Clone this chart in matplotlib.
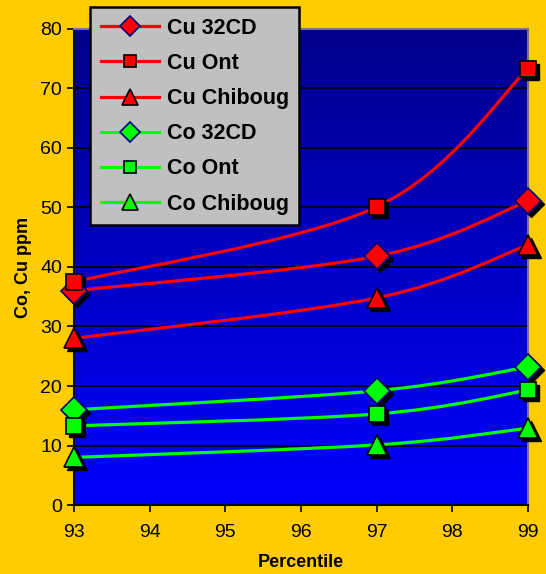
import numpy as np
import matplotlib
matplotlib.use("Agg")
import matplotlib.pyplot as plt
from matplotlib.path import Path
from matplotlib.patches import PathPatch
from matplotlib.lines import Line2D
from matplotlib.transforms import ScaledTranslation

plt.rcParams['font.family'] = ['Liberation Sans', 'DejaVu Sans']

percentile = [93, 97, 99]
cu_32cd = [36.0, 41.8, 51.1]
cu_ont = [37.5, 50.1, 73.3]
cu_chiboug = [28.0, 34.8, 43.7]
co_32cd = [16.0, 19.2, 23.2]
co_ont = [13.3, 15.3, 19.3]
co_chiboug = [8.0, 10.1, 12.9]

series = [
    ("Cu 32CD", cu_32cd, "#FF0000", "D", "#000080"),
    ("Cu Ont", cu_ont, "#FF0000", "s", "black"),
    ("Cu Chiboug", cu_chiboug, "#FF0000", "^", "black"),
    ("Co 32CD", co_32cd, "#00FF00", "D", "#000080"),
    ("Co Ont", co_ont, "#00FF00", "s", "black"),
    ("Co Chiboug", co_chiboug, "#00FF00", "^", "black"),
]
msizes = {"D": 13, "s": 11, "^": 14}


def smooth_path(xs, ys):
    # excel-style smoothed line: bezier segments through the points
    pts = np.column_stack([xs, ys]).astype(float)
    n = len(pts)
    verts = [pts[0]]
    codes = [Path.MOVETO]
    for i in range(n - 1):
        p0 = pts[max(i - 1, 0)]
        p1 = pts[i]
        p2 = pts[i + 1]
        p3 = pts[min(i + 2, n - 1)]
        c1 = p1 + (p2 - p0) / 6.0
        c2 = p2 - (p3 - p1) / 6.0
        verts += [c1, c2, p2]
        codes += [Path.CURVE4] * 3
    return Path(verts, codes)


fig = plt.figure(figsize=(5.46, 5.74), dpi=100, facecolor="#FFCC00")
ax = fig.add_axes([0.1355, 0.1202, 0.8315, 0.8293])

grad = np.linspace(0, 1, 256).reshape(-1, 1)
cmap = matplotlib.colors.LinearSegmentedColormap.from_list("bg", ["#0000FF", "#00008A"])
ax.imshow(grad, extent=[93, 99, 0, 80], aspect="auto", cmap=cmap, origin="lower", zorder=0)

ax.set_xlim(93, 99)
ax.set_ylim(0, 80)
ax.set_yticks(range(0, 81, 10))
ax.set_xticks(range(93, 100))
for y in range(10, 81, 10):
    ax.axhline(y, color="black", lw=1.2, zorder=1)

shadow = ax.transData + ScaledTranslation(3 / 100, -3 / 100, fig.dpi_scale_trans)
handles = []
for name, vals, col, mk, ec in series:
    ax.add_patch(PathPatch(smooth_path(percentile, vals), fill=False, edgecolor=col, lw=2.3, zorder=3))
    ax.plot(percentile, vals, ls="none", marker=mk, ms=msizes[mk], mfc="black", mec="black",
            transform=shadow, zorder=4, clip_on=False)
    ax.plot(percentile, vals, ls="none", marker=mk, ms=msizes[mk], mfc=col, mec=ec, mew=1.2,
            zorder=5, clip_on=False)
    handles.append(Line2D([], [], color=col, lw=2.3, marker=mk, ms=msizes[mk] - 3, mfc=col, mec=ec, mew=1.2))

for s in ax.spines.values():
    s.set_color("black")
    s.set_linewidth(1.5)
ax.spines["top"].set_color("#777777")
ax.spines["right"].set_color("#777777")

ax.tick_params(direction="out", length=5, width=1.2, labelsize=14, colors="black")
ax.tick_params(axis="x", pad=9)
ax.set_xlabel("Percentile", fontsize=13, fontweight="bold", labelpad=9)
ax.set_ylabel("Co, Cu ppm", fontsize=13, fontweight="bold", labelpad=6)

leg = fig.legend(handles, [s[0] for s in series], loc="upper left",
                 bbox_to_anchor=(0.165, 0.988), bbox_transform=fig.transFigure,
                 borderaxespad=0, fancybox=False, framealpha=1, facecolor="#C0C0C0",
                 edgecolor="black", prop={"size": 15.5, "weight": "bold"},
                 handlelength=2.7, labelspacing=0.66, borderpad=0.5, handletextpad=0.35)
leg.get_frame().set_linewidth(1.8)

fig.savefig("out.png", dpi=100, facecolor=fig.get_facecolor())
